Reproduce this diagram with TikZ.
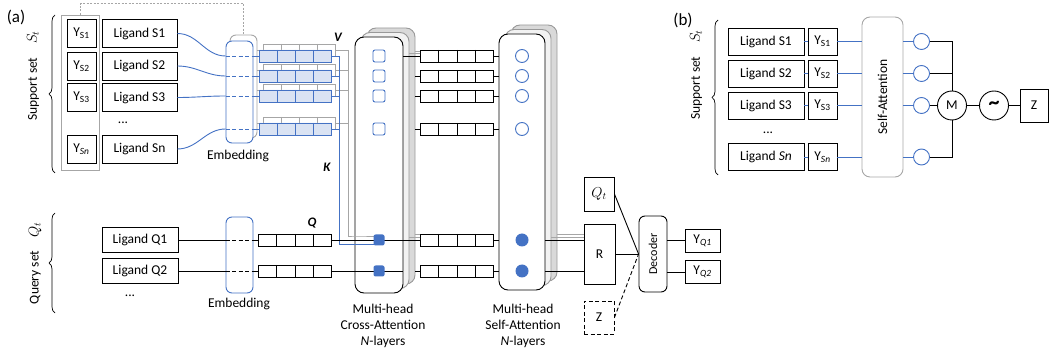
\documentclass[tikz,border=0pt]{standalone}
\usepackage{fontspec}
\setmainfont{Carlito}
\usepackage{tikz}
\usetikzlibrary{positioning, arrows.meta, shapes.multipart, decorations.pathreplacing}

\definecolor{ablue}{HTML}{4472C4}
\definecolor{lblue}{HTML}{DAE3F3}
\definecolor{lgray}{HTML}{A6A6A6}

\begin{document}
\begin{tikzpicture}[x=1pt, y=-1pt, line width=0.9pt,
    font=\fontsize{13.5}{16}\selectfont,
    pbox/.style={draw, inner sep=0pt},
    lig/.style={pbox, minimum width=75pt, minimum height=28pt},
    ybox/.style={pbox, minimum width=29pt, minimum height=28pt},
    tok/.style={draw, rectangle split, rectangle split horizontal,
        rectangle split parts=4, inner sep=0pt, fill=white,
        rectangle split empty part width=12.6pt,
        rectangle split empty part height=12pt,
        rectangle split empty part depth=0pt},
    btok/.style={tok, draw=ablue, fill=lblue},
    gtok/.style={tok, draw=lgray},
    emb/.style={draw=ablue, rounded corners=6pt, minimum width=27pt, fill=white, inner sep=0pt},
    card/.style={draw, rounded corners=9pt, fill=white, inner sep=0pt},
    bl/.style={ablue},
    gl/.style={lgray},
    sbrace/.style={decorate, decoration={brace, amplitude=6pt}, line width=0.7pt},
    qkv/.style={font=\fontsize{13}{15}\selectfont\bfseries\itshape},
    stacklabel/.style={align=center, font=\fontsize{13.5}{16}\selectfont},
    dashes/.style={dash pattern=on 4pt off 2.5pt},
  ]
\useasboundingbox (0,0) rectangle (1049,352);

% ---------------- (a) ----------------
\node[font=\fontsize{17}{19}\selectfont] (la) at (16,17) {(a)};

% support set
\draw[sbrace] (55,173) -- (55,15);
\node[rotate=90] (sup) at (33,76) {Support set\quad {\Large $S_t$}};
\node[draw=lgray, minimum width=38pt, minimum height=155pt, inner sep=0pt] (ygrp) at (80,92.5) {};
\foreach \n/\y/\lab/\sub in {1/33.5/S1/S1, 2/66/S2/S2, 3/97.5/S3/S3, 4/149/Sn/{\itshape Sn}} {
    \node[ybox] (ys\n) at (81.5,\y) {Y\textsubscript{\sub}};
    \node[lig] (ls\n) at (139.5,\y) {Ligand \lab};
}
\node (sdots) at (123,123) {...};

% embedding of the support set
\node[emb, draw=lgray, minimum height=103pt] (embg) at (243.5,86.5) {};
\node[emb, minimum height=102pt] (emb) at (239.5,92) {};
\node (embl) at (238,156) {Embedding};
\draw[gl, line width=0.6pt, dash pattern=on 2pt off 1.5pt] (ygrp.north) -- ++(0,-11) -| (embg.north);

\foreach \n/\y in {1/56, 2/76, 3/96, 4/129} {
    \node[gtok] (g\n) at (299.5,\y-6) {};
    \draw[gl] (embg.east |- g\n) -- (g\n.west);
    \node[btok] (s\n) at (295.5,\y) {};
}
\coordinate (vtop) at (348,50);
\coordinate (vbot) at (348,236);
\coordinate (ktop) at (339,56);
\coordinate (kbot) at (339,244);
\foreach \n in {1,...,4} {
    \draw[bl] (ls\n.east) to[out=0, in=180] (emb.west |- s\n);
    \draw[bl, dashes] (emb.west |- s\n) -- (emb.east |- s\n);
    \draw[bl] (emb.east |- s\n) -- (s\n.west);
    \draw[gl] (g\n.east) -- (g\n.east -| vtop);
    \draw[bl] (s\n.east) -- (s\n.east -| ktop);
}
\node[qkv] (V) at (338,37) {V};
\node[qkv] (K) at (327,167) {K};
\node[qkv] (Q) at (312,223) {Q};

% query set
\draw[sbrace] (55,313) -- (55,213);
\node[rotate=90] (qry) at (35,263) {Query set\quad {\Large $Q_t$}};
\node[emb, minimum height=76pt] (qemb) at (239.5,255) {};
\node (qembl) at (239,304) {Embedding};
\foreach \n/\y in {1/240, 2/271} {
    \node[lig, minimum width=76pt, minimum height=25pt] (lq\n) at (140,\y) {Ligand Q\n};
    \node[tok] (qt\n) at (295,\y) {};
    \draw (lq\n.east) -- (qemb.west |- lq\n);
    \draw[dashes] (qemb.west |- lq\n) -- (qemb.east |- lq\n);
    \draw (qemb.east |- lq\n) -- (qt\n.west);
}
\node (qdots) at (130,296) {...};

% cross-attention stack
\node[card, fill=gray!30, draw=gray!80, minimum width=48pt, minimum height=256pt] (ca3) at (391,156) {};
\node[card, fill=gray!10, draw=gray!80, minimum width=48pt, minimum height=256pt] (ca2) at (385,160.5) {};
\node[card, minimum width=48pt, minimum height=256pt] (ca) at (379,165) {};

% self-attention stack
\node[card, fill=gray!30, draw=gray!80, minimum width=46pt, minimum height=256pt] (sa3) at (534,153) {};
\node[card, fill=gray!10, draw=gray!80, minimum width=46pt, minimum height=256pt] (sa2) at (528,157.5) {};
\node[card, minimum width=46pt, minimum height=256pt] (sa) at (522,162) {};

% tokens between the two stacks
\foreach \n/\y in {1/56, 2/76, 3/96, 4/129}
    \node[tok] (t\n) at (457,\y) {};
\foreach \n/\y in {1/240, 2/271}
    \node[tok] (tq\n) at (457,\y) {};

% K and V into the first query row
\draw[gl] (vtop) -- (vbot) -- (vbot -| ca.west) -- (vbot -| ca.center);
\draw[bl] (ktop) -- (kbot) -- (kbot -| ca.center);

% rows through the stacks
\draw (ca.east |- t1) -- (t1.west);
\draw[gl] ([yshift=3pt]t1.west) -- ([yshift=3pt]t1.west -| ca2.east);
\draw[gl] ([yshift=5pt]t1.west) -- ([yshift=5pt]t1.west -| ca3.east);
\foreach \n in {2,3,4}
    \draw (ca3.east |- t\n) -- (t\n.west);
\foreach \n in {1,...,4} {
    \draw (t\n.east) -- (sa.west |- t\n);
    \node[draw=ablue, rounded corners=2pt, minimum size=12pt, inner sep=0pt, fill=white] (cs\n) at (ca.center |- t\n) {};
    \node[circle, draw=ablue, minimum size=13pt, inner sep=0pt] (sc\n) at (sa.center |- t\n) {};
}
\draw (qt1.east) -- (tq1.west);
\draw[gl] ([yshift=3pt]tq1.west) -- ([yshift=3pt]tq1.west -| ca2.east);
\draw[gl] ([yshift=6pt]tq1.west) -- ([yshift=6pt]tq1.west -| ca3.east);
\draw (qt2.east) -- (ca.east |- qt2);
\draw (ca3.east |- qt2) -- (tq2.west);

% R, Q_t, Z and the decoder
\node[pbox, minimum width=31pt, minimum height=60pt] (R) at (599.5,254) {R};
\node[pbox, minimum width=30pt, minimum height=34pt] (Qt) at (599,194) {\Large $Q_t$};
\node[pbox, dashes, minimum width=30pt, minimum height=33pt] (Z) at (599,317.5) {Z};
\node[draw, rounded corners=6pt, minimum width=28pt, minimum height=76pt, inner sep=0pt] (dec) at (653,254) {};
\node[rotate=90, font=\fontsize{12}{14}\selectfont] (decl) at (dec) {Decoder};

\foreach \n in {1,2} {
    \draw (tq\n.east) -- (sa.west |- tq\n);
    \draw (sa.east |- tq\n) -- (R.west |- tq\n);
    \node[circle, fill=ablue, minimum size=13pt, inner sep=0pt] (sf\n) at (sa.center |- tq\n) {};
    \node[fill=ablue, rounded corners=2pt, minimum size=11pt, inner sep=0pt] (cf\n) at (ca.center |- qt\n) {};
}
\draw[gl] ([yshift=3pt]R.west |- tq1) -- ([yshift=3pt]sa2.east |- tq1);
\draw[gl] ([yshift=6pt]R.west |- tq1) -- ([yshift=6pt]sa3.east |- tq1);

\coordinate (din) at (dec.west |- R.east);
\draw (R.east) -- (din);
\draw (Qt.east) -- (din);
\draw[dashes] (Z.east) -- (din);

\node[pbox, minimum width=35pt, minimum height=23pt] (yq1) at (702.5,240.5) {Y\textsubscript{\itshape Q1}};
\node[pbox, minimum width=35pt, minimum height=23pt] (yq2) at (702.5,272) {Y\textsubscript{\itshape Q2}};
\draw (dec.east |- yq1) -- (yq1.west);
\draw (dec.east |- yq2) -- (yq2.west);

\node[stacklabel] (cal) at (383,326) {Multi-head\\Cross-Attention\\\textit{N}-layers};
\node[stacklabel] (sal) at (523,326) {Multi-head\\Self-Attention\\\textit{N}-layers};

% ---------------- (b) ----------------
\node[font=\fontsize{17}{19}\selectfont] (lb) at (683,20) {(b)};
\draw[sbrace] (718,175) -- (718,20);
\node[rotate=90] (bsup) at (696,75) {Support set\quad {\Large $S_t$}};
\node[draw=lgray, rounded corners=8pt, minimum width=41pt, minimum height=160pt, inner sep=0pt] (bsa) at (882.5,97) {};
\node[rotate=90] (bsal) at (bsa) {Self-Attention};

\node[circle, draw, minimum size=29pt, inner sep=0pt] (M) at (952,105.5) {M};
\node[circle, draw, minimum size=29pt, inner sep=0pt, font=\fontsize{22}{22}\selectfont\bfseries] (tld) at (994,105.5) {\textasciitilde};
\node[pbox, minimum width=28pt, minimum height=33pt] (bz) at (1034,105.5) {Z};

\foreach \n/\y/\lab/\sub in {1/41.5/S1/S1, 2/73.5/S2/S2, 3/105.5/S3/S3, 4/157/{\itshape Sn}/{\itshape Sn}} {
    \node[lig, minimum width=76pt, minimum height=27pt] (blig\n) at (766,\y) {Ligand \lab};
    \node[ybox, minimum height=27pt] (by\n) at (822.5,\y) {Y\textsubscript{\sub}};
    \node[circle, draw=ablue, minimum size=16pt, inner sep=0pt] (bc\n) at (921.5,\y) {};
    \draw[bl] (blig\n.east) -- (by\n.west);
    \draw[bl] (by\n.east) -- (bsa.west |- by\n);
    \draw[bl] (bsa.east |- by\n) -- (bc\n.west);
}
\node (bdots) at (768,133) {...};

\draw (bc1.east) -| (M.north);
\draw (bc2.east) -- (bc2.east -| M.north);
\draw (bc3.east) -- (M.west);
\draw (bc4.east) -| (M.south);
\draw (M.east) -- (tld.west);
\draw (tld.east) -- (bz.west);
\end{tikzpicture}
\end{document}
